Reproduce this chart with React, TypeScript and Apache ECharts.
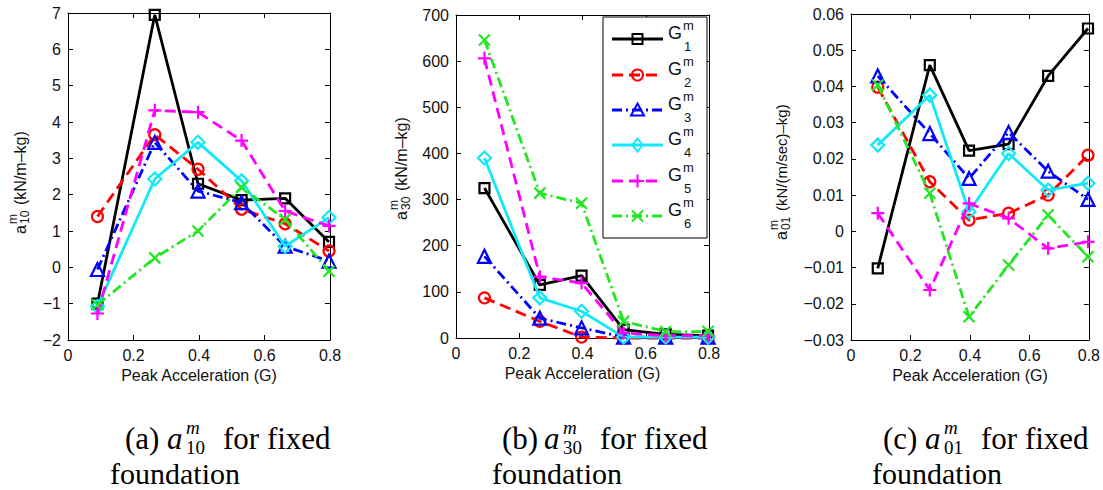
import React, { useEffect, useRef } from "react";
import * as echarts from "echarts";

// ---------- data ----------
const PEAK_ACC = [0.09, 0.265, 0.397, 0.53, 0.663, 0.797];
const GROUP_NAMES = ["G1", "G2", "G3", "G4", "G5", "G6"];
const GROUP_INDEX = ["1", "2", "3", "4", "5", "6"];

// (a) a10 (kN/m-kg)
const A10_G1 = [-1.0, 6.95, 2.3, 1.85, 1.9, 0.7];
const A10_G2 = [1.4, 3.65, 2.7, 1.6, 1.2, 0.45];
const A10_G3 = [-0.06, 3.44, 2.1, 1.78, 0.58, 0.17];
const A10_G4 = [-1.08, 2.43, 3.44, 2.38, 0.58, 1.37];
const A10_G5 = [-1.27, 4.32, 4.27, 3.49, 1.55, 1.14];
const A10_G6 = [-1.03, 0.26, 1.0, 2.2, 1.32, -0.11];

// (b) a30 (kN/m-kg)
const A30_G1 = [325, 115, 135, 18, 8, 5];
const A30_G2 = [87, 36, 2, 0, 0, 0];
const A30_G3 = [177, 43, 22, 2, 2, 2];
const A30_G4 = [390, 87, 58, 2, 2, 2];
const A30_G5 = [606, 133, 119, 11, 5, 5];
const A30_G6 = [646, 314, 292, 36, 14, 14];

// (c) a01 (kN/(m/sec)-kg)
const A01_G1 = [-0.0102, 0.0459, 0.0223, 0.0241, 0.0429, 0.056];
const A01_G2 = [0.0398, 0.0137, 0.0031, 0.005, 0.01, 0.021];
const A01_G3 = [0.0429, 0.027, 0.0146, 0.0273, 0.0166, 0.0088];
const A01_G4 = [0.0238, 0.0376, 0.0054, 0.0215, 0.0114, 0.0133];
const A01_G5 = [0.005, -0.0162, 0.0077, 0.0036, -0.0047, -0.0029];
const A01_G6 = [0.0404, 0.0105, -0.0236, -0.0093, 0.0045, -0.007];

const PANEL_A = [A10_G1, A10_G2, A10_G3, A10_G4, A10_G5, A10_G6];
const PANEL_B = [A30_G1, A30_G2, A30_G3, A30_G4, A30_G5, A30_G6];
const PANEL_C = [A01_G1, A01_G2, A01_G3, A01_G4, A01_G5, A01_G6];

const X_TICKS = { min: 0, max: 0.8, interval: 0.2 };
const Y_TICKS_A = { min: -2, max: 7, interval: 1 };
const Y_TICKS_B = { min: 0, max: 700, interval: 100 };
const Y_TICKS_C = { min: -0.03, max: 0.06, interval: 0.01 };

const X_NAME = "Peak Acceleration (G)";
const Y_UNITS = ["(kN/m\u2013kg)", "(kN/m\u2013kg)", "(kN/(m/sec)\u2013kg)"];
const Y_SUBS = ["10", "30", "01"];
const CAPTION_LABELS = ["(a)", "(b)", "(c)"];

// ---------- styles ----------
const COLORS = ["#000000", "#ff0000", "#0000ff", "#12e8f8", "#ff00ff", "#22e622"];
const DASHES: any[] = ["solid", [11, 6], [10, 4, 2, 4], "solid", [11, 6], [10, 4, 2, 4]];
const MARKERS = ["square", "circle", "triangle", "diamond", "plus", "cross"];
const SYMBOLS = [
  "rect",
  "circle",
  "triangle",
  "diamond",
  "path://M5,0L5,10M0,5L10,5",
  "path://M0,0L10,10M10,0L0,10",
];
const SYMBOL_SIZES = [10, 11, 13, 13, 13, 11];

const GRIDS = [
  { left: 68, top: 13, width: 262, height: 327 },
  { left: 456, top: 15, width: 253, height: 323 },
  { left: 851, top: 14, width: 238, height: 326 },
];

const SANS = '"Liberation Sans", Arial, sans-serif';
const SERIF = '"Liberation Serif", "Times New Roman", serif';
const INK = "#111";

function fmt(v: number, digits: number) {
  const s = Number(v.toFixed(digits)).toString();
  return s.replace("-", "\u2212");
}

function markerGraphic(kind: string, cx: number, cy: number, color: string): any[] {
  const st = { stroke: color, lineWidth: 2, fill: "none" };
  switch (kind) {
    case "square":
      return [{ type: "rect", shape: { x: cx - 5, y: cy - 5, width: 10, height: 10 }, style: st }];
    case "circle":
      return [{ type: "circle", shape: { cx, cy, r: 5.5 }, style: st }];
    case "triangle":
      return [{ type: "polygon", shape: { points: [[cx, cy - 6.5], [cx + 6.5, cy + 5.5], [cx - 6.5, cy + 5.5]] }, style: st }];
    case "diamond":
      return [{ type: "polygon", shape: { points: [[cx, cy - 6.5], [cx + 5, cy], [cx, cy + 6.5], [cx - 5, cy]] }, style: st }];
    case "plus":
      return [
        { type: "line", shape: { x1: cx - 6.5, y1: cy, x2: cx + 6.5, y2: cy }, style: st },
        { type: "line", shape: { x1: cx, y1: cy - 6.5, x2: cx, y2: cy + 6.5 }, style: st },
      ];
    default:
      return [
        { type: "line", shape: { x1: cx - 5.5, y1: cy - 5.5, x2: cx + 5.5, y2: cy + 5.5 }, style: st },
        { type: "line", shape: { x1: cx + 5.5, y1: cy - 5.5, x2: cx - 5.5, y2: cy + 5.5 }, style: st },
      ];
  }
}

export default function App() {
  const ref = useRef<HTMLDivElement>(null);

  useEffect(() => {
    if (!ref.current) return;
    const chart = echarts.init(ref.current, null, { renderer: "svg" });

    const panels = [PANEL_A, PANEL_B, PANEL_C];
    const yTicks = [Y_TICKS_A, Y_TICKS_B, Y_TICKS_C];
    const yDigits = [0, 0, 2];

    const xAxis: any[] = [];
    const yAxis: any[] = [];
    const series: any[] = [];

    GRIDS.forEach((g, gi) => {
      const common = {
        gridIndex: gi,
        type: "value",
        axisLine: { show: true, onZero: false, lineStyle: { color: "#000", width: 1 } },
        axisTick: { show: true, inside: true, length: 5, lineStyle: { color: "#000" } },
        splitLine: { show: false },
      };
      xAxis.push({
        ...common,
        position: "bottom",
        ...X_TICKS,
        name: X_NAME,
        nameLocation: "middle",
        nameGap: 27,
        nameTextStyle: { fontFamily: SANS, fontSize: 16, color: INK },
        axisLabel: {
          margin: 7,
          fontFamily: SANS,
          fontSize: 16,
          color: INK,
          formatter: (v: number) => fmt(v, 1),
        },
      });
      xAxis.push({ ...common, position: "top", ...X_TICKS, axisLabel: { show: false } });
      yAxis.push({
        ...common,
        position: "left",
        ...yTicks[gi],
        axisLabel: {
          margin: 7,
          fontFamily: SANS,
          fontSize: 16,
          color: INK,
          formatter: (v: number) => fmt(v, yDigits[gi]),
        },
      });
      yAxis.push({ ...common, position: "right", ...yTicks[gi], axisLabel: { show: false } });

      panels[gi].forEach((vals, si) => {
        series.push({
          type: "line",
          name: GROUP_NAMES[si],
          xAxisIndex: gi * 2,
          yAxisIndex: gi * 2,
          data: PEAK_ACC.map((x, i) => [x, vals[i]]),
          symbol: SYMBOLS[si],
          symbolSize: SYMBOL_SIZES[si],
          showAllSymbol: true,
          clip: false,
          lineStyle: { color: COLORS[si], width: 2.8, type: DASHES[si] },
          itemStyle: { color: "rgba(0,0,0,0)", borderColor: COLORS[si], borderWidth: 2.2 },
          emphasis: { disabled: true },
          z: 2 + si,
        });
      });
    });

    const graphic: any[] = [];

    // Legend (panel b)
    const LEG = { x: 603, y: 17, w: 104, h: 221, lineX1: 612, lineX2: 663, textX: 668 };
    const LEG_ROWS = [39, 75, 110, 145, 181, 216];
    graphic.push({
      type: "rect",
      shape: { x: LEG.x, y: LEG.y, width: LEG.w, height: LEG.h },
      style: { fill: "#fff", stroke: "#000", lineWidth: 1 },
      z: 100,
    });
    GROUP_INDEX.forEach((idx, si) => {
      const y = LEG_ROWS[si];
      const dash = DASHES[si] === "solid" ? null : DASHES[si];
      graphic.push({
        type: "line",
        shape: { x1: LEG.lineX1, y1: y, x2: LEG.lineX2, y2: y },
        style: { stroke: COLORS[si], lineWidth: 2.8, lineDash: dash },
        z: 101,
      });
      markerGraphic(MARKERS[si], (LEG.lineX1 + LEG.lineX2) / 2, y, COLORS[si]).forEach((m) =>
        graphic.push({ ...m, z: 102 })
      );
      graphic.push({
        type: "text",
        x: LEG.textX,
        y: y - 6,
        style: { text: "G", fontFamily: SANS, fontSize: 18, fill: INK, verticalAlign: "middle", align: "left" },
        z: 102,
      });
      graphic.push({
        type: "text",
        x: LEG.textX + 15,
        y: y - 14,
        style: { text: "m", fontFamily: SANS, fontSize: 13, fill: INK, verticalAlign: "middle", align: "left" },
        z: 102,
      });
      graphic.push({
        type: "text",
        x: LEG.textX + 16,
        y: y + 7,
        style: { text: idx, fontFamily: SANS, fontSize: 13, fill: INK, verticalAlign: "middle", align: "left" },
        z: 102,
      });
    });

    // Y axis titles (rotated)
    const YLAB_POS = [
      [20, 234],
      [401, 220],
      [781, 240],
    ];
    const YLAB_FS = [16, 16, 15];
    YLAB_POS.forEach(([x, y], gi) => {
      graphic.push({
        type: "group",
        x,
        y,
        rotation: Math.PI / 2,
        children: [
          { type: "text", x: 0, y: 0, style: { text: "a", fontFamily: SANS, fontSize: 16, fill: INK, verticalAlign: "middle", align: "left" } },
          { type: "text", x: 10, y: -7, style: { text: "m", fontFamily: SANS, fontSize: 12, fill: INK, verticalAlign: "middle", align: "left" } },
          { type: "text", x: 10, y: 5, style: { text: Y_SUBS[gi], fontFamily: SANS, fontSize: 12, fill: INK, verticalAlign: "middle", align: "left" } },
          { type: "text", x: 29, y: 0, style: { text: Y_UNITS[gi], fontFamily: SANS, fontSize: YLAB_FS[gi], fill: INK, verticalAlign: "middle", align: "left" } },
        ],
      });
    });

    // Captions
    const CAP_X1 = [125, 502, 883];
    const CAP_X2 = [110, 492, 872];
    CAPTION_LABELS.forEach((lab, gi) => {
      const x = CAP_X1[gi];
      graphic.push({ type: "text", x, y: 438, style: { text: lab, fontFamily: SERIF, fontSize: 31, fill: "#000", verticalAlign: "middle", align: "left" } });
      graphic.push({ type: "text", x: x + 42, y: 438, style: { text: "a", fontFamily: SERIF, fontStyle: "italic", fontSize: 31, fill: "#000", verticalAlign: "middle", align: "left" } });
      graphic.push({ type: "text", x: x + 61, y: 427, style: { text: "m", fontFamily: SERIF, fontStyle: "italic", fontSize: 19, fill: "#000", verticalAlign: "middle", align: "left" } });
      graphic.push({ type: "text", x: x + 61, y: 447, style: { text: Y_SUBS[gi], fontFamily: SERIF, fontSize: 19, fill: "#000", verticalAlign: "middle", align: "left" } });
      graphic.push({ type: "text", x: x + 98, y: 438, style: { text: "for fixed", fontFamily: SERIF, fontSize: 31, fill: "#000", verticalAlign: "middle", align: "left" } });
      graphic.push({ type: "text", x: CAP_X2[gi], y: 473, style: { text: "foundation", fontFamily: SERIF, fontSize: 30, fill: "#000", verticalAlign: "middle", align: "left" } });
    });

    chart.setOption({
      animation: false,
      backgroundColor: "#fff",
      grid: GRIDS.map((g) => ({ ...g, containLabel: false })),
      xAxis,
      yAxis,
      series,
      graphic,
    });

    return () => chart.dispose();
  }, []);

  return (
    <div
      ref={ref}
      style={{ position: "absolute", left: 0, top: 0, width: 1103, height: 490, background: "#fff" }}
    />
  );
}
